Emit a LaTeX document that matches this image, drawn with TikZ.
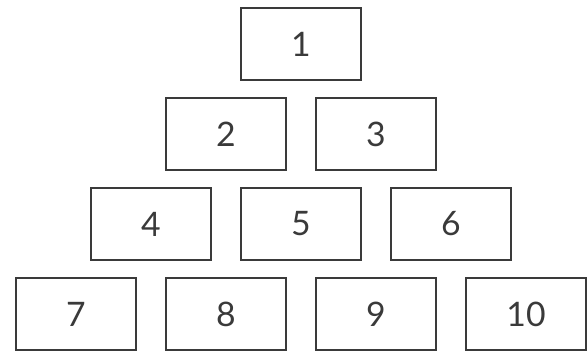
\documentclass[tikz,border=0pt]{standalone}
\usepackage{fontspec}
\setmainfont{Lato}
\usepackage{tikz}
\definecolor{inkgray}{HTML}{3A3A3A}
\tikzset{cell/.style={draw=inkgray, line width=1.2pt, minimum width=3cm, minimum height=1.8cm, inner sep=0pt, text=inkgray, font=\fontsize{24}{28}\selectfont}}

\begin{document}
\begin{tikzpicture}
\useasboundingbox (0,0) rectangle (14.7,-8.8);
% pyramid, top row first
\foreach \n/\x/\y in {1/7.525/-1.1,
  2/5.65/-3.35,3/9.4/-3.35,
  4/3.775/-5.6,5/7.525/-5.6,6/11.275/-5.6,
  7/1.9/-7.85,8/5.65/-7.85,9/9.4/-7.85,10/13.15/-7.85}
  \node[cell] (box\n) at (\x,\y) {\n};
\end{tikzpicture}
\end{document}
